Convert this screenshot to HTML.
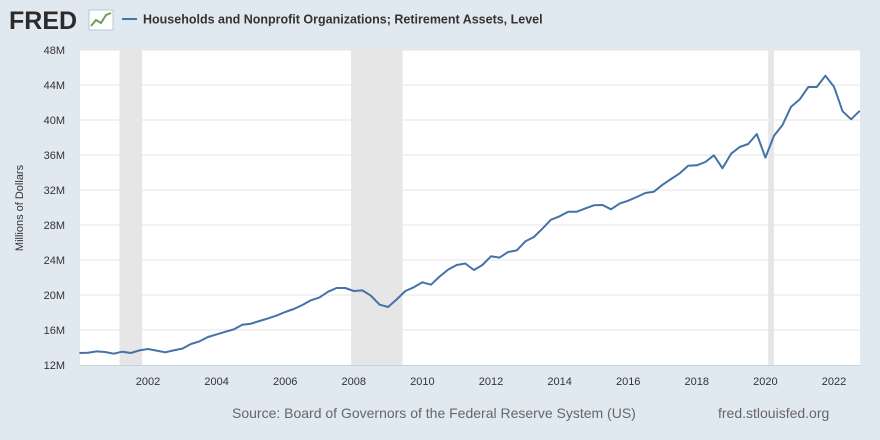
<!DOCTYPE html>
<html><head><meta charset="utf-8"><style>
body{margin:0;background:#e1e9f0;font-family:"Liberation Sans",sans-serif;}
#wrap{position:relative;width:880px;height:440px;overflow:hidden;background:#e1e9f0;}
</style></head><body>
<div id="wrap">
<svg id="chart" width="880" height="440">
  <g>
    <text x="9" y="29" font-family="Liberation Sans" font-weight="bold" font-size="25" fill="#2b2b2b">FRED</text>
    <rect x="89" y="10" width="24" height="20" fill="#fff" stroke="#b8c6d6"/>
    <polyline points="91,26 96,20 101,23 106,15 111,13" fill="none" stroke="#6d9c5e" stroke-width="2"/>
  </g>
  <line x1="122" y1="19" x2="137" y2="19" stroke="#4572a7" stroke-width="2"/>
  <text x="143" y="23.5" font-size="12.5" fill="#333" font-weight="bold">Households and Nonprofit Organizations; Retirement Assets, Level</text>
  <rect x="80" y="50" width="780" height="315" fill="#fff"/>
  <g id="rec"></g><g id="grid"></g><g id="ylab"></g><g id="xlab"></g><g id="series"></g>
  <line x1="80" y1="365.5" x2="860" y2="365.5" stroke="#c7d2dd"/>
  <text transform="translate(23,208) rotate(-90)" text-anchor="middle" font-size="11" fill="#333">Millions of Dollars</text>
  <text x="232" y="418" font-size="14" fill="#666">Source: Board of Governors of the Federal Reserve System (US)</text>
  <text x="718" y="418" font-size="14" fill="#666">fred.stlouisfed.org</text>
</svg>
</div>
<script>
const startYear = 2000;
const values = [13.37,13.41,13.56,13.49,13.29,13.52,13.37,13.67,13.83,13.64,13.45,13.67,13.87,14.4,14.7,15.2,15.5,15.8,16.07,16.6,16.72,17.03,17.33,17.64,18.06,18.4,18.86,19.39,19.73,20.38,20.8,20.8,20.46,20.53,19.92,18.9,18.63,19.5,20.46,20.88,21.45,21.18,22.1,22.9,23.43,23.6,
22.86,23.43,24.42,24.27,24.91,25.1,26.13,26.63,27.58,28.61,28.99,29.52,29.52,29.9,30.25,30.29,29.79,30.44,30.78,31.2,31.66,31.81,32.6,33.26,33.9,34.78,34.82,35.2,35.96,34.48,36.15,36.91,37.26,38.4,35.7,38.2,39.43,41.52,42.36,43.77,43.77,45.06,43.81,41.0,40.08,41.05];
const yTicks = [12,16,20,24,28,32,36,40,44,48];
const xTicks = [2002,2004,2006,2008,2010,2012,2014,2016,2018,2020,2022];
const recStarts = [2001.17,2007.92,2020.08];
const recEnds = [2001.83,2009.42,2020.25];
const NS='http://www.w3.org/2000/svg';
function xs(t){return 79.4+(t-2000)*34.3;}
function ys(v){return 365-(v-12)*8.75;}
function mk(tag,attrs,parent){const e=document.createElementNS(NS,tag);for(const k in attrs)e.setAttribute(k,attrs[k]);document.getElementById(parent).appendChild(e);return e;}
recStarts.forEach((s,i)=>{const r=mk('rect',{x:xs(s),y:50,width:xs(recEnds[i])-xs(s),height:315,fill:'#e6e6e6'},'rec');

});
yTicks.forEach(v=>{if(v>12){const l=mk('line',{x1:80,x2:860,y1:ys(v),y2:ys(v),stroke:'#e6e6e6'},'grid');

}
const t=mk('text',{x:65,y:ys(v)+4,'text-anchor':'end','font-size':11,fill:'#333'},'ylab');t.textContent=v+'M';

});
xTicks.forEach(y=>{const t=mk('text',{x:xs(y),y:385,'text-anchor':'middle','font-size':11,fill:'#333'},'xlab');t.textContent=y;

});
const pts=values.map((v,i)=>xs(startYear+i*0.25).toFixed(1)+','+ys(v).toFixed(1)).join(' ');
const pl=mk('polyline',{points:pts,fill:'none',stroke:'#4572a7','stroke-width':2,'stroke-linejoin':'round'},'series');


</script>
</body></html>
